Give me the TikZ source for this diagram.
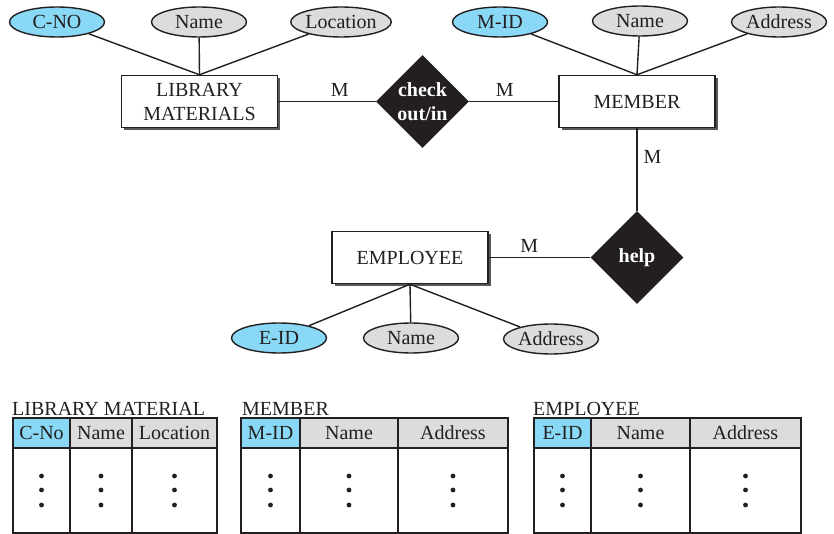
\documentclass[tikz,border=0pt]{standalone}
\usepackage{fontspec}
\setmainfont{Liberation Serif}
\usetikzlibrary{positioning}
\usetikzlibrary{shapes}
\usetikzlibrary{shadows}
\definecolor{keyblue}{RGB}{137,216,246}
\definecolor{attrgray}{RGB}{219,220,221}
\definecolor{inkblack}{RGB}{35,31,32}
\tikzset{
        erdnode/.style={align=center,inner sep=0pt,text=inkblack,font=\fontsize{20}{24}\selectfont},
        % Entity boxes
        node_entity/.style={erdnode, rectangle, draw=inkblack, line width=1.5pt, fill=white, minimum width=156pt, minimum height=52pt, drop shadow={shadow xshift=2.5pt, shadow yshift=-2.5pt, fill=inkblack!75, opacity=1}},
        % Plain attributes
        node_attr/.style={erdnode, ellipse, draw=inkblack, line width=1.4pt, fill=attrgray, minimum width=95pt, minimum height=30pt},
        % Key attributes
        node_key/.style={node_attr, fill=keyblue},
        % Relationships
        node_rel/.style={erdnode, diamond, fill=inkblack, text=white, font=\fontsize{20}{24}\selectfont\bfseries, minimum width=93pt, minimum height=93pt},
        % Cardinality labels
        node_card/.style={erdnode},
        % Table parts
        node_cell/.style={erdnode, anchor=center},
        node_title/.style={erdnode, anchor=base west},
        link/.style={draw=inkblack, line width=1.4pt},
        grid/.style={draw=inkblack, line width=1.6pt}
}
\begin{document}
\begin{tikzpicture}[x=1pt, y=-1pt]
    \useasboundingbox (0,0) rectangle (834,534);
    % ER diagram
    \node[node_entity] (lib) at (199.5,101.5) {LIBRARY\\MATERIALS};
    \node[node_entity] (mem) at (637,101.5) {MEMBER};
    \node[node_entity] (emp) at (410,257.5) {EMPLOYEE};
    \node[node_rel] (chk) at (422.5,101.5) {check\\out/in};
    \node[node_rel] (help) at (637,257.5) {help};

    \node[node_key]  (lib_id)   at (57,22)  {C-NO};
    \node[node_attr] (lib_name) at (199,22) {Name};
    \node[node_attr] (lib_loc)  at (341,22) {Location};
    \node[node_key]  (mem_id)   at (500,22) {M-ID};
    \node[node_attr] (mem_name) at (640,21) {Name};
    \node[node_attr] (mem_addr) at (779,22) {Address};
    \node[node_key]  (emp_id)   at (279,338) {E-ID};
    \node[node_attr] (emp_name) at (411,338) {Name};
    \node[node_attr] (emp_addr) at (551,339) {Address};

    \foreach \a in {lib_id,lib_name,lib_loc} \draw[link] (\a) -- (lib.north);
    \foreach \a in {mem_id,mem_name,mem_addr} \draw[link] (\a) -- (mem.north);
    \foreach \a in {emp_id,emp_name,emp_addr} \draw[link] (\a) -- (emp.south);

    \draw[link] (lib) -- node[node_card, pos=0.63, above=4pt] (m1) {M} (chk);
    \draw[link] (chk) -- node[node_card, pos=0.4, above=4pt] (m2) {M} (mem);
    \draw[link] (mem) -- node[node_card, pos=0.35, right=6pt] (m3) {M} (help);
    \draw[link] (emp) -- node[node_card, pos=0.4, above=4pt] (m4) {M} (help);

    % Tables
    \node[node_title] (t1) at (12,415) {LIBRARY MATERIAL};
    \fill[keyblue] (13,418) rectangle (70,448);
    \fill[attrgray] (70,418) rectangle (217,448);
    \draw[grid] (13,418) rectangle (217,533) (13,448) -- (217,448) (70,418) -- (70,533) (132,418) -- (132,533);
    \node[node_cell] (t1c1) at (41.5,433) {C-No};
    \node[node_cell] (t1c2) at (101,433) {Name};
    \node[node_cell] (t1c3) at (174.5,433) {Location};
    \foreach \x in {41.5,101,174.5} \foreach \y in {476,490,505} \fill[inkblack] (\x,\y) circle (2.4pt);

    \node[node_title] (t2) at (242,415) {MEMBER};
    \fill[keyblue] (241,418) rectangle (300,448);
    \fill[attrgray] (300,418) rectangle (508,448);
    \draw[grid] (241,418) rectangle (508,533) (241,448) -- (508,448) (300,418) -- (300,533) (398,418) -- (398,533);
    \node[node_cell] (t2c1) at (270.5,433) {M-ID};
    \node[node_cell] (t2c2) at (349,433) {Name};
    \node[node_cell] (t2c3) at (453,433) {Address};
    \foreach \x in {270.5,349,453} \foreach \y in {476,490,505} \fill[inkblack] (\x,\y) circle (2.4pt);

    \node[node_title] (t3) at (533,415) {EMPLOYEE};
    \fill[keyblue] (534,418) rectangle (591,448);
    \fill[attrgray] (591,418) rectangle (801,448);
    \draw[grid] (534,418) rectangle (801,533) (534,448) -- (801,448) (591,418) -- (591,533) (690,418) -- (690,533);
    \node[node_cell] (t3c1) at (562.5,433) {E-ID};
    \node[node_cell] (t3c2) at (640.5,433) {Name};
    \node[node_cell] (t3c3) at (745.5,433) {Address};
    \foreach \x in {562.5,640.5,745.5} \foreach \y in {476,490,505} \fill[inkblack] (\x,\y) circle (2.4pt);
\end{tikzpicture}
\end{document}
